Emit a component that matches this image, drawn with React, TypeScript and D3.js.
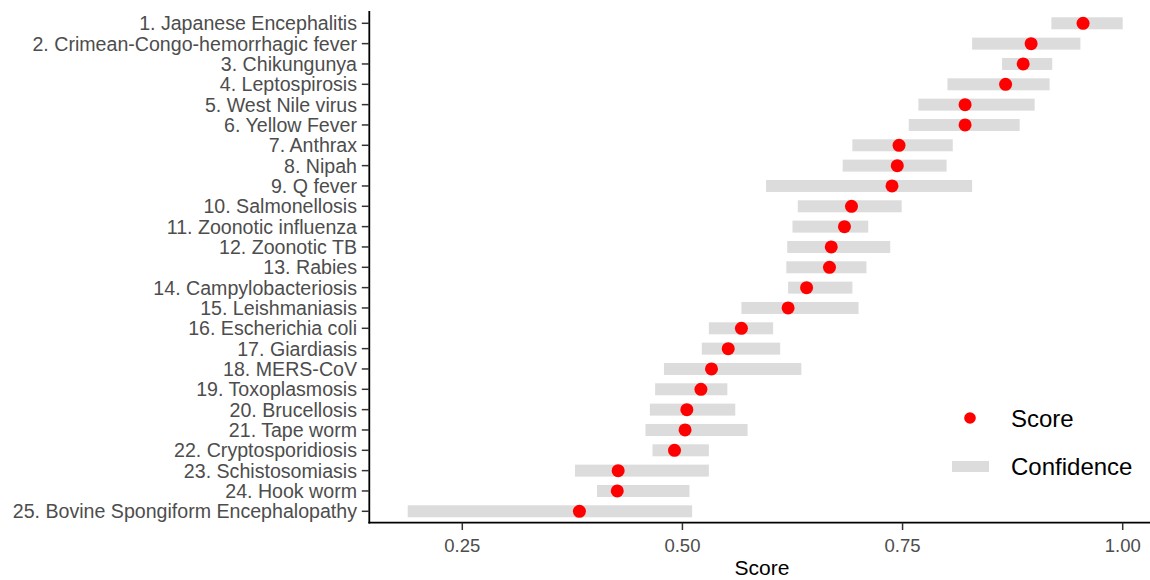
import React, { useMemo } from 'react';
import * as d3 from 'd3';

// values
const diseases = [
  '1. Japanese Encephalitis',
  '2. Crimean-Congo-hemorrhagic fever',
  '3. Chikungunya',
  '4. Leptospirosis',
  '5. West Nile virus',
  '6. Yellow Fever',
  '7. Anthrax',
  '8. Nipah',
  '9. Q fever',
  '10. Salmonellosis',
  '11. Zoonotic influenza',
  '12. Zoonotic TB',
  '13. Rabies',
  '14. Campylobacteriosis',
  '15. Leishmaniasis',
  '16. Escherichia coli',
  '17. Giardiasis',
  '18. MERS-CoV',
  '19. Toxoplasmosis',
  '20. Brucellosis',
  '21. Tape worm',
  '22. Cryptosporidiosis',
  '23. Schistosomiasis',
  '24. Hook worm',
  '25. Bovine Spongiform Encephalopathy',
];

const scores = [
  0.955, 0.896, 0.887, 0.867, 0.821, 0.821, 0.746, 0.744, 0.738, 0.692,
  0.684, 0.669, 0.667, 0.641, 0.62, 0.567, 0.552, 0.533, 0.521, 0.505,
  0.503, 0.491, 0.427, 0.426, 0.383,
];

const lower = [
  0.919, 0.829, 0.863, 0.801, 0.768, 0.757, 0.693, 0.682, 0.595, 0.631,
  0.625, 0.619, 0.618, 0.62, 0.567, 0.53, 0.522, 0.479, 0.469, 0.463,
  0.458, 0.466, 0.378, 0.403, 0.188,
];

const upper = [
  1.0, 0.952, 0.92, 0.917, 0.9, 0.883, 0.807, 0.8, 0.829, 0.749,
  0.711, 0.736, 0.709, 0.693, 0.7, 0.603, 0.611, 0.635, 0.551, 0.56,
  0.574, 0.53, 0.53, 0.508, 0.511,
];

const xTicks = [0.25, 0.5, 0.75, 1.0];
const legendLabels = ['Score', 'Confidence'];
const axisTitle = 'Score';

const FONT = '"Liberation Sans", Arial, sans-serif';
const RED = '#FF0000';
const GREY = '#DCDCDC';

const App = () => {
  const left = 369.3;
  const top = 11.1;
  const bottom = 523.5;

  const x = useMemo(
    () => d3.scaleLinear().domain([0.25, 1.0]).range([462.3, 1122.7]),
    []
  );

  const y = useMemo(
    () => d3.scalePoint<string>().domain(diseases).range([top, bottom]).padding(0.6),
    []
  );

  const rows = diseases.map((d, i) => ({
    name: d,
    score: scores[i],
    lo: lower[i],
    hi: upper[i],
  }));

  const barH = 12;
  const fmt = d3.format('.2f');

  return (
    <svg
      width={1150}
      height={580}
      style={{ position: 'absolute', left: 0, top: 0, background: '#fff' }}
      fontFamily={FONT}
    >
      {/* confidence bars */}
      {rows.map((r) => (
        <rect
          key={'b' + r.name}
          x={x(r.lo)}
          y={(y(r.name) as number) - barH / 2}
          width={x(r.hi) - x(r.lo)}
          height={barH}
          fill={GREY}
        />
      ))}
      {/* score points */}
      {rows.map((r) => (
        <circle
          key={'p' + r.name}
          cx={x(r.score)}
          cy={y(r.name) as number}
          r={6.5}
          fill={RED}
        />
      ))}

      {/* y axis */}
      <line x1={left} x2={left} y1={top} y2={bottom} stroke="#000" strokeWidth={1.8} />
      {diseases.map((d) => (
        <g key={'yt' + d} transform={`translate(0, ${y(d)})`}>
          <line x1={left - 7.5} x2={left} stroke="#333" strokeWidth={1.5} />
          <text
            x={357}
            dy="0.36em"
            textAnchor="end"
            fontSize={19.6}
            fill="#4D4D4D"
          >
            {d}
          </text>
        </g>
      ))}

      {/* x axis */}
      <line x1={left - 0.9} x2={1150} y1={522.7} y2={522.7} stroke="#000" strokeWidth={1.8} />
      {xTicks.map((t) => (
        <g key={'xt' + t} transform={`translate(${x(t)}, 0)`}>
          <line y1={522.7} y2={530} stroke="#333" strokeWidth={1.5} />
          <text y={551.5} textAnchor="middle" fontSize={18.5} fill="#4D4D4D">
            {fmt(t)}
          </text>
        </g>
      ))}
      <text x={762} y={574.5} textAnchor="middle" fontSize={21} fill="#000">
        {axisTitle}
      </text>

      {/* legend */}
      <circle cx={970} cy={418} r={5.8} fill={RED} />
      <text x={1011} y={418} dy="0.36em" fontSize={24} fill="#000">
        {legendLabels[0]}
      </text>
      <rect x={952} y={461} width={37} height={11} fill={GREY} />
      <text x={1011} y={466.5} dy="0.36em" fontSize={24} fill="#000">
        {legendLabels[1]}
      </text>
    </svg>
  );
};

export default App;
